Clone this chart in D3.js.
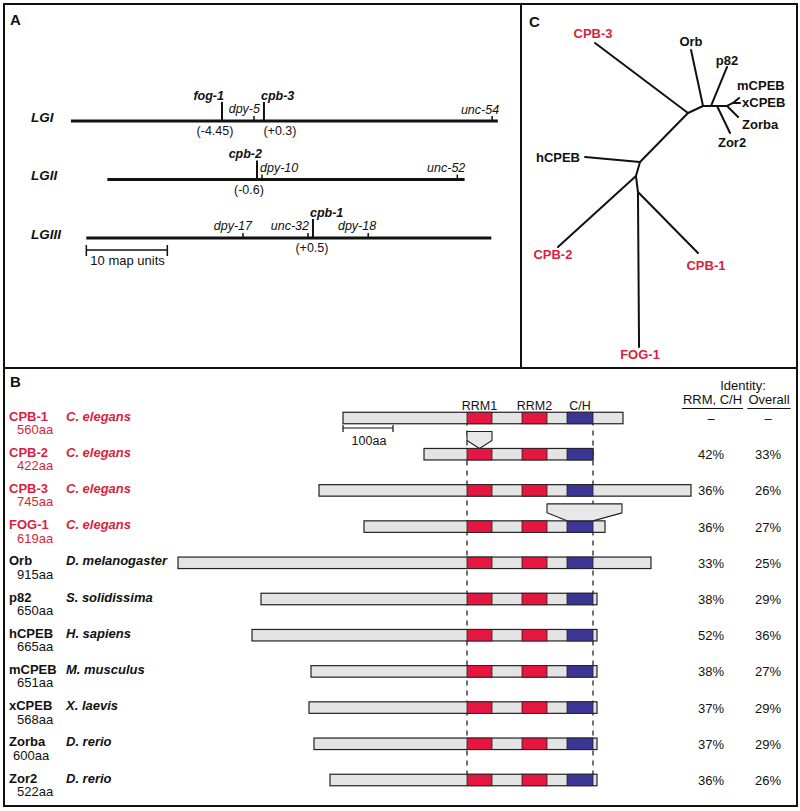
<!DOCTYPE html>
<meta charset="utf-8">
<style>
body { margin: 0; background: #fff; }
svg text { font-family: "Liberation Sans", Arial, Helvetica, sans-serif; fill: #111; }
svg text.ce { fill: #d91f3d; }
</style>
<body>
<svg width="800" height="811"></svg>
<script src="https://cdn.jsdelivr.net/npm/d3@7"></script>
<script>
// ---------- panel A: genetic map (map units along the diagram's common axis, dpy-5 = 0)
var chromosomes = ["LGI", "LGII", "LGIII"];
var chromStart = [-22.6, -18.1, -20.7];
var chromEnd = [30.1, 26.0, 29.3];
var markerNames = ["fog-1", "dpy-5", "cpb-3", "unc-54", "cpb-2", "dpy-10", "unc-52", "dpy-17", "unc-32", "cpb-1", "dpy-18"];
var markerChrom = [0, 0, 0, 0, 1, 1, 1, 2, 2, 2, 2];
var markerPos = [-3.95, 0, 1.23, 29.4, 0.37, 0.99, 25.1, -1.36, 6.67, 7.28, 14.1];
var mapNotes = {"fog-1": "(-4.45)", "cpb-3": "(+0.3)", "cpb-2": "(-0.6)", "cpb-1": "(+0.5)"};
var mapBarUnits = 10;

// ---------- panel C: unrooted tree, edges [node, parent, branch length, angle in degrees]
var treeEdges = [
    ["n1", "root", 68.6, -45.6],
    ["n2", "n1", 16.6, -25],
    ["n3", "n2", 8, 0],
    ["n4", "n3", 6, 0],
    ["n8", "n4", 10, 0],
    ["n9", "n8", 6.7, -26.6],
    ["mCPEB", "n9", 7.8, -39.8],
    ["xCPEB", "n9", 7, 0],
    ["Zorba", "n8", 15.6, 45],
    ["Zor2", "n4", 30, 64.3],
    ["p82", "n3", 42.2, -67.7],
    ["Orb", "n2", 57.3, -102.1],
    ["CPB-3", "n1", 116.4, -143],
    ["hCPEB", "root", 55.2, -174.8],
    ["n6", "root", 14.6, 106],
    ["CPB-2", "n6", 105.5, 137.7],
    ["n7", "n6", 16.1, 82.9],
    ["CPB-1", "n7", 85.6, 45.5],
    ["FOG-1", "n7", 155, 89.6]
];
var elegans = ["CPB-1", "CPB-2", "CPB-3", "FOG-1"];

// ---------- panel B: domain structure (aa, aligned on start of RRM1)
var proteins = ["CPB-1", "CPB-2", "CPB-3", "FOG-1", "Orb", "p82", "hCPEB", "mCPEB", "xCPEB", "Zorba", "Zor2"];
var proteinLength = [560, 422, 745, 619, 915, 650, 665, 651, 568, 600, 522];
var species = ["C. elegans", "C. elegans", "C. elegans", "C. elegans", "D. melanogaster", "S. solidissima",
               "H. sapiens", "M. musculus", "X. laevis", "D. rerio", "D. rerio"];
var nTerm = [248, 86, 296, 206, 578, 412, 430, 312, 316, 306, 274];
var cTerm = [312, 252, 448, 276, 368, 260, 260, 260, 260, 260, 260];
var identityRRM = [null, 42, 36, 36, 33, 38, 52, 38, 37, 37, 36];
var identityOverall = [null, 33, 26, 27, 25, 29, 36, 27, 29, 29, 26];
var domainNames = ["RRM1", "RRM2", "C/H"];
var domainFrom = [0, 110, 200];
var domainTo = [50, 160, 252];
var insertProtein = ["CPB-2", "FOG-1"];
var insertFrom = [0, 160];
var insertTo = [50, 310];
var insertSiteFrom = [25, 200];
var insertSiteTo = [25, 252];
var scaleBarAA = 100;

var svg = d3.select("svg");
var ink = "#111";

// frame
svg.append("rect").attr("x", 4).attr("y", 4).attr("width", 793).attr("height", 802)
    .attr("fill", "none").attr("stroke", ink).attr("stroke-width", 2);
svg.append("line").attr("x1", 521).attr("x2", 521).attr("y1", 4).attr("y2", 368)
    .attr("stroke", ink).attr("stroke-width", 2);
svg.append("line").attr("x1", 4).attr("x2", 797).attr("y1", 368).attr("y2", 368)
    .attr("stroke", ink).attr("stroke-width", 2);

[["A", 10, 25], ["C", 529, 27], ["B", 10, 387]].forEach(function(d) {
    svg.append("text").attr("x", d[1]).attr("y", d[2]).attr("font-size", 15)
        .attr("font-weight", "bold").text(d[0]);
});

// ================= panel A
var mapX = d3.scaleLinear().domain([0, 10]).range([254, 335]);
var chromY = d3.scalePoint().domain(chromosomes).range([121, 238]);
var gA = svg.append("g");

// [anchor, dx, dy] for marker labels
var markerLabel = {
    "fog-1": ["end", 2, -21], "dpy-5": ["end", 6, -8], "cpb-3": ["start", -3, -21], "unc-54": ["end", 7, -7],
    "cpb-2": ["end", 5, -22], "dpy-10": ["start", -2, -8], "unc-52": ["end", 8, -8],
    "dpy-17": ["end", 9, -8], "unc-32": ["end", 1, -8], "cpb-1": ["start", -3, -21], "dpy-18": ["end", 8, -8]
};
var noteDx = {"fog-1": -7, "cpb-3": 16, "cpb-2": -8, "cpb-1": -1};

chromosomes.forEach(function(c, i) {
    gA.append("line")
        .attr("x1", mapX(chromStart[i])).attr("x2", mapX(chromEnd[i]))
        .attr("y1", chromY(c)).attr("y2", chromY(c))
        .attr("stroke", ink).attr("stroke-width", 3);
    gA.append("text").attr("x", 31).attr("y", chromY(c) + 0.5)
        .attr("font-size", 13.5).attr("font-weight", "bold").attr("font-style", "italic")
        .text(c);
});

markerNames.forEach(function(m, i) {
    var y = chromY(chromosomes[markerChrom[i]]);
    var x = mapX(markerPos[i]);
    var cloned = m in mapNotes;
    gA.append("line").attr("x1", x).attr("x2", x)
        .attr("y1", y).attr("y2", y - (cloned ? 19 : 5))
        .attr("stroke", ink).attr("stroke-width", cloned ? 2 : 1.5);
    var lab = markerLabel[m];
    gA.append("text").attr("x", x + lab[1]).attr("y", y + lab[2])
        .attr("text-anchor", lab[0]).attr("font-size", 12.5)
        .attr("font-style", "italic").attr("font-weight", cloned ? "bold" : "normal")
        .text(m);
    if (cloned) {
        gA.append("text").attr("x", x + noteDx[m]).attr("y", y + 14)
            .attr("text-anchor", "middle").attr("font-size", 12.5)
            .text(mapNotes[m]);
    }
});

// 10 map unit bar
var mb0 = mapX(chromStart[2]), mb1 = mapX(chromStart[2] + mapBarUnits), mby = chromY("LGIII") + 12;
gA.append("path")
    .attr("d", "M" + mb0 + "," + (mby - 5) + "V" + (mby + 6) + "M" + mb0 + "," + mby + "H" + mb1 +
               "M" + mb1 + "," + (mby - 5) + "V" + (mby + 6))
    .attr("fill", "none").attr("stroke", ink).attr("stroke-width", 1.5);
gA.append("text").attr("x", mb0 + 4).attr("y", mby + 15).attr("font-size", 13)
    .text(mapBarUnits + " map units");

// ================= panel C
var treeX = d3.scaleLinear().domain([0, 100]).range([640, 740]);
var treeY = d3.scaleLinear().domain([0, 100]).range([162, 262]);
var pos = {root: [0, 0]};
treeEdges.forEach(function(e) {
    var p = pos[e[1]], a = e[3] * Math.PI / 180;
    pos[e[0]] = [p[0] + e[2] * Math.cos(a), p[1] + e[2] * Math.sin(a)];
});
var gC = svg.append("g");
gC.selectAll("line.branch")
    .data(treeEdges)
    .enter().append("line")
    .attr("class", "branch")
    .attr("x1", function(e) { return treeX(pos[e[1]][0]); })
    .attr("y1", function(e) { return treeY(pos[e[1]][1]); })
    .attr("x2", function(e) { return treeX(pos[e[0]][0]); })
    .attr("y2", function(e) { return treeY(pos[e[0]][1]); })
    .attr("stroke", ink).attr("stroke-width", 2).attr("stroke-linecap", "round");

// [anchor, dx, dy] for leaf labels
var leafLabel = {
    "CPB-3": ["middle", -2, -5], "Orb": ["middle", 0, -4], "p82": ["middle", 0, -2],
    "mCPEB": ["start", -2, -8], "xCPEB": ["start", 2, 4], "Zorba": ["start", 4, 12],
    "Zor2": ["middle", 2, 14], "hCPEB": ["end", -5, 5], "CPB-2": ["middle", -5, 12],
    "CPB-1": ["middle", 8, 17], "FOG-1": ["middle", 1, 12]
};
Object.keys(leafLabel).forEach(function(n) {
    var l = leafLabel[n];
    gC.append("text")
        .attr("class", elegans.indexOf(n) >= 0 ? "ce" : null)
        .attr("x", treeX(pos[n][0]) + l[1]).attr("y", treeY(pos[n][1]) + l[2])
        .attr("text-anchor", l[0]).attr("font-size", 13).attr("font-weight", "bold")
        .text(n);
});

// ================= panel B
var aaX = d3.scaleLinear().domain([0, 100]).range([467, 517]);
var rowY = d3.scalePoint().domain(proteins).range([420.5, 782.5]);
var barH = 11.5;
var gB = svg.append("g");

// dashed alignment guides
[domainFrom[0], domainTo[2]].forEach(function(a) {
    gB.append("line").attr("x1", aaX(a)).attr("x2", aaX(a))
        .attr("y1", rowY(proteins[0])).attr("y2", rowY(proteins[proteins.length - 1]) - 3)
        .attr("stroke", ink).attr("stroke-width", 1.2).attr("stroke-dasharray", "5,5");
});

// domain headers
domainNames.forEach(function(d, i) {
    gB.append("text").attr("x", aaX((domainFrom[i] + domainTo[i]) / 2)).attr("y", 410)
        .attr("text-anchor", "middle").attr("font-size", 12.5).text(d);
});

var rows = gB.selectAll("g.row")
    .data(proteins)
    .enter().append("g")
    .attr("class", "row")
    .attr("transform", function(p) { return "translate(0," + rowY(p) + ")"; });

rows.append("text").attr("x", 9).attr("y", 0)
    .attr("class", function(p, i) { return i < 4 ? "ce" : null; })
    .attr("font-size", 13).attr("font-weight", "bold").text(function(p) { return p; });
rows.append("text").attr("x", function(p) { return p === "Zorba" ? 13 : 17; }).attr("y", 13.5)
    .attr("class", function(p, i) { return i < 4 ? "ce" : null; })
    .attr("font-size", 13).text(function(p, i) { return proteinLength[i] + "aa"; });
rows.append("text").attr("x", 66).attr("y", 0)
    .attr("class", function(p, i) { return i < 4 ? "ce" : null; })
    .attr("font-size", 13).attr("font-weight", "bold").attr("font-style", "italic")
    .text(function(p, i) { return species[i]; });

rows.append("rect")
    .attr("x", function(p, i) { return aaX(-nTerm[i]); })
    .attr("width", function(p, i) { return aaX(cTerm[i]) - aaX(-nTerm[i]); })
    .attr("y", -2.5 - barH / 2).attr("height", barH)
    .attr("fill", "#e4e4e4").attr("stroke", "#222").attr("stroke-width", 1.2);

domainNames.forEach(function(d, k) {
    rows.append("rect")
        .attr("x", aaX(domainFrom[k])).attr("width", aaX(domainTo[k]) - aaX(domainFrom[k]))
        .attr("y", -2.5 - barH / 2).attr("height", barH)
        .attr("fill", d === "C/H" ? "#3b3596" : "#e5163f")
        .attr("stroke", "#222").attr("stroke-width", 0.8);
});

rows.append("text").attr("x", 711).attr("y", 2.5).attr("text-anchor", "middle").attr("font-size", 13)
    .text(function(p, i) { return identityRRM[i] == null ? "\u2013" : identityRRM[i] + "%"; });
rows.append("text").attr("x", 768).attr("y", 2.5).attr("text-anchor", "middle").attr("font-size", 13)
    .text(function(p, i) { return identityOverall[i] == null ? "\u2013" : identityOverall[i] + "%"; });

// insertions drawn above the bar
insertProtein.forEach(function(p, k) {
    var top = rowY(p) - 2.5 - barH / 2;
    var bx0 = aaX(insertFrom[k]), bx1 = aaX(insertTo[k]);
    var by0 = top - 17, by1 = top - 8;
    gB.append("path")
        .attr("d", "M" + bx0 + "," + by1 + "V" + by0 + "H" + bx1 + "V" + by1 +
                   "L" + aaX(insertSiteTo[k]) + "," + top + "L" + aaX(insertSiteFrom[k]) + "," + top + "Z")
        .attr("fill", "#e8e8e8").attr("stroke", "#222").attr("stroke-width", 1.1)
        .attr("stroke-linejoin", "round");
});

// 100aa scale bar
var sb0 = aaX(-nTerm[0]), sb1 = aaX(-nTerm[0] + scaleBarAA), sby = rowY(proteins[0]) + 7.5;
gB.append("path")
    .attr("d", "M" + sb0 + "," + (sby - 3) + "V" + (sby + 4) + "M" + sb0 + "," + sby + "H" + sb1 +
               "M" + sb1 + "," + (sby - 3) + "V" + (sby + 4))
    .attr("fill", "none").attr("stroke", ink).attr("stroke-width", 1.2);
gB.append("text").attr("x", (sb0 + sb1) / 2 + 1).attr("y", sby + 17).attr("text-anchor", "middle")
    .attr("font-size", 12.5).text(scaleBarAA + "aa");

// identity header
gB.append("text").attr("x", 743).attr("y", 390).attr("text-anchor", "middle").attr("font-size", 13).text("Identity:");
[["RRM, C/H", 712.5], ["Overall", 769]].forEach(function(h) {
    var t = gB.append("text").attr("x", h[1]).attr("y", 404).attr("text-anchor", "middle")
        .attr("font-size", 13).text(h[0]);
    var w = t.node().getComputedTextLength();
    gB.append("line").attr("x1", h[1] - w / 2 - 1).attr("x2", h[1] + w / 2 + 1)
        .attr("y1", 408.5).attr("y2", 408.5).attr("stroke", ink).attr("stroke-width", 1.2);
});
</script>
</body>
